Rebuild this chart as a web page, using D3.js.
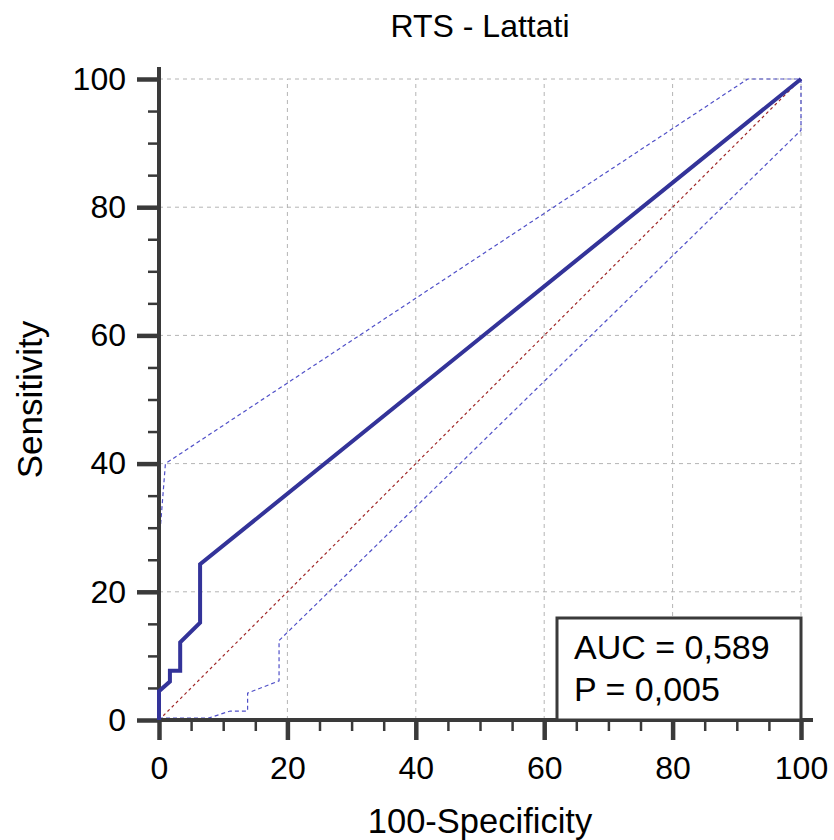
<!DOCTYPE html>
<html>
<head>
<meta charset="utf-8">
<script src="https://cdn.jsdelivr.net/npm/d3@7"></script>
<style>
  body { margin: 0; background: #fff; }
  text { font-family: "Liberation Sans", Arial, sans-serif; fill: #000; }
</style>
</head>
<body>
<svg id="chart"></svg>
<script>
// ROC curve (100-Specificity, Sensitivity)
const rocX = [0, 0, 1.7, 1.7, 3.3, 3.3, 6.4, 6.4, 100];
const rocY = [0, 4.5, 6.0, 7.7, 7.7, 12.1, 15.2, 24.3, 100];

// confidence bounds
const upperX = [0, 0, 1.0, 91.7, 100];
const upperY = [0, 27.3, 40, 100, 100];
const lowerX = [0, 7.7, 11.1, 13.8, 13.8, 18.7, 18.7, 100, 100];
const lowerY = [0.3, 0.3, 1.4, 1.4, 4.2, 6.1, 12.4, 92, 100];

const majorTicks = [0, 20, 40, 60, 80, 100];
const minorTicks = d3.range(0, 101, 5).filter(v => v % 20 !== 0);

const title = "RTS - Lattati";
const xTitle = "100-Specificity";
const yTitle = "Sensitivity";
const legendLines = ["AUC = 0,589", "P = 0,005"];

const width = 834;
const height = 840;
const margin = { top: 79, right: 33, bottom: 120, left: 159 };
const axisColor = "#3a3a3a";

const svg = d3.select("#chart")
  .attr("width", width)
  .attr("height", height);

const x = d3.scaleLinear().domain([0, 100]).range([margin.left, width - margin.right]);
const y = d3.scaleLinear().domain([0, 100]).range([height - margin.bottom, margin.top]);

// grid
const grid = svg.append("g")
  .attr("stroke", "#b4b4b4")
  .attr("stroke-width", 1)
  .attr("stroke-dasharray", "4,4");
majorTicks.filter(v => v > 0).forEach(v => {
  grid.append("line")
    .attr("x1", x(v)).attr("x2", x(v))
    .attr("y1", y(0)).attr("y2", y(100));
  grid.append("line")
    .attr("x1", x(0)).attr("x2", x(100))
    .attr("y1", y(v)).attr("y2", y(v));
});

const line = d3.line()
  .x(d => x(d[0]))
  .y(d => y(d[1]));

// reference diagonal
svg.append("path")
  .datum([[0, 0], [100, 100]])
  .attr("d", line)
  .attr("fill", "none")
  .attr("stroke", "#a02828")
  .attr("stroke-width", 1.2)
  .attr("stroke-dasharray", "3,3");

// confidence bounds
[[upperX, upperY], [lowerX, lowerY]].forEach(([xs, ys]) => {
  svg.append("path")
    .datum(xs.map((v, i) => [v, ys[i]]))
    .attr("d", line)
    .attr("fill", "none")
    .attr("stroke", "#5050c8")
    .attr("stroke-width", 1.2)
    .attr("stroke-dasharray", "4,3");
});

// axes
const xMajor = svg.append("g")
  .attr("transform", `translate(0,${y(0)})`)
  .call(d3.axisBottom(x).tickValues(majorTicks).tickSize(20).tickPadding(16).tickSizeOuter(0));
const xMinor = svg.append("g")
  .attr("transform", `translate(0,${y(0)})`)
  .call(d3.axisBottom(x).tickValues(minorTicks).tickSize(11).tickFormat("").tickSizeOuter(0));
const yMajor = svg.append("g")
  .attr("transform", `translate(${x(0)},0)`)
  .call(d3.axisLeft(y).tickValues(majorTicks).tickSize(22).tickPadding(11).tickSizeOuter(0));
const yMinor = svg.append("g")
  .attr("transform", `translate(${x(0)},0)`)
  .call(d3.axisLeft(y).tickValues(minorTicks).tickSize(11).tickFormat("").tickSizeOuter(0));

[xMajor, xMinor, yMajor, yMinor].forEach(g => g.select(".domain").remove());
[xMajor, yMajor].forEach(g => {
  g.selectAll(".tick line").attr("stroke", axisColor).attr("stroke-width", 4.5);
  g.selectAll(".tick text")
    .style("font-family", "'Liberation Sans', Arial, sans-serif")
    .style("font-size", "32px")
    .attr("fill", "#000");
});
[xMinor, yMinor].forEach(g => {
  g.selectAll(".tick line").attr("stroke", axisColor).attr("stroke-width", 2.5);
});

// axis lines, a little past the data range
svg.append("line")
  .attr("x1", x(0)).attr("x2", x(100) + 12)
  .attr("y1", y(0)).attr("y2", y(0))
  .attr("stroke", axisColor).attr("stroke-width", 4);
svg.append("line")
  .attr("x1", x(0)).attr("x2", x(0))
  .attr("y1", y(0)).attr("y2", y(100) - 12)
  .attr("stroke", axisColor).attr("stroke-width", 4);

// ROC curve
svg.append("path")
  .datum(rocX.map((v, i) => [v, rocY[i]]))
  .attr("d", line)
  .attr("fill", "none")
  .attr("stroke", "#333399")
  .attr("stroke-width", 4)
  .attr("stroke-linejoin", "miter");

// legend box
const legend = svg.append("g");
legend.append("rect")
  .attr("x", 557).attr("y", 618)
  .attr("width", x(100) - 557).attr("height", y(0) - 618)
  .attr("fill", "#fff")
  .attr("stroke", axisColor)
  .attr("stroke-width", 3);
legendLines.forEach((t, i) => {
  legend.append("text")
    .attr("x", 574)
    .attr("y", 659 + i * 42)
    .style("font-size", "34px")
    .text(t);
});

// titles
svg.append("text")
  .attr("x", (x(0) + x(100)) / 2)
  .attr("y", 37)
  .attr("text-anchor", "middle")
  .style("font-size", "32px")
  .text(title);

svg.append("text")
  .attr("x", (x(0) + x(100)) / 2)
  .attr("y", 833)
  .attr("text-anchor", "middle")
  .style("font-size", "34.5px")
  .text(xTitle);

svg.append("text")
  .attr("transform", `translate(42,${(y(0) + y(100)) / 2}) rotate(-90)`)
  .attr("text-anchor", "middle")
  .style("font-size", "35px")
  .text(yTitle);
</script>
</body>
</html>
